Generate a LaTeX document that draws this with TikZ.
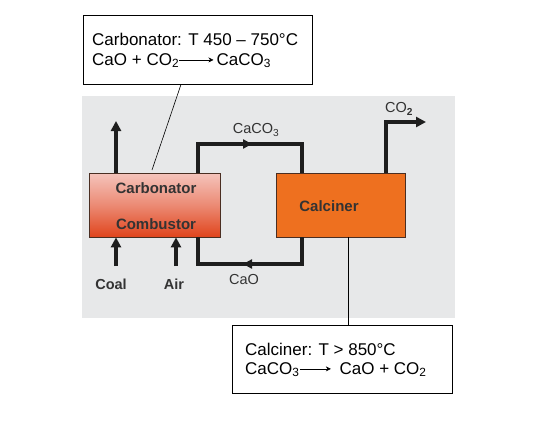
\documentclass[tikz,border=0pt]{standalone}
\usepackage{fontspec}
\setmainfont{Liberation Sans}
\usetikzlibrary{arrows.meta,calc}
\definecolor{bggray}{HTML}{E7E8E9}
\definecolor{flow}{HTML}{1E1E1E}
\definecolor{labelc}{HTML}{333333}
\definecolor{carbtop}{HTML}{F5C4BC}
\definecolor{carbbot}{HTML}{E0441C}
\definecolor{calcfill}{HTML}{EE701F}
\definecolor{boxedge}{HTML}{4A2E22}
\tikzset{
  flowline/.style={draw=flow,line width=3.6pt,line join=miter},
  flowarrow/.style={flowline,-{Triangle[length=10pt,width=10pt]}},
  midtip/.style={flowline,-{Triangle[length=9pt,width=9pt]}},
  reactor/.style={draw=boxedge,line width=0.8pt,minimum width=131pt,minimum height=64pt,inner sep=0pt},
  notebox/.style={draw=black,line width=0.9pt,fill=white,inner sep=0pt},
  leader/.style={draw=black,line width=0.6pt},
  blabel/.style={font=\fontsize{15}{17}\selectfont\bfseries,text=labelc},
  slabel/.style={font=\fontsize{14.5}{17}\selectfont,text=labelc},
  notetext/.style={anchor=base west,font=\fontsize{17}{20}\selectfont,inner sep=0pt},
}
\newcommand{\rxnarrow}[1]{\tikz[baseline]\draw[line width=0.6pt,-{Stealth[length=5pt,width=5pt]}] (0pt,0.3em) -- (#1,0.3em);}
\begin{document}
\begin{tikzpicture}[x=1pt,y=-1pt]
\useasboundingbox (0,0) rectangle (551,421);
\fill[bggray] (82,96) rectangle (455,318);

% reactors
\node[reactor,top color=carbtop,bottom color=carbbot,middle color=carbtop!55!carbbot] (carb) at (154.5,205) {};
\node[reactor,fill=calcfill,minimum width=129pt] (calc) at (340.5,205) {};
\node[blabel] (carbtxt) at (156,188) {Carbonator};
\node[blabel] (combtxt) at (156,224) {Combustor};
\node[blabel] (calctxt) at (329,206) {Calciner};

% coordinates
\coordinate (exhaust) at (116,121);
\coordinate (l1) at (198,144);
\coordinate (r1) at (302,144);
\coordinate (m1) at (252,144);
\coordinate (r2) at (302,264);
\coordinate (l2) at (198,264);
\coordinate (m2) at (243,264);
\coordinate (c1) at (386,122);
\coordinate (co2end) at (426,122);
\coordinate (coalin) at (116,266);
\coordinate (airin) at (176,266);

% flows
\draw[flowarrow] (exhaust |- carb.north) -- (exhaust);
\draw[flowline] (l1 |- carb.north) -- (l1) -- (r1) -- (r1 |- calc.north);
\draw[midtip] (l1) -- (m1);
\draw[flowline] (r2 |- calc.south) -- (r2) -- (l2) -- (l2 |- carb.south);
\draw[midtip] (r2) -- (m2);
\draw[flowarrow] (c1 |- calc.north) -- (c1) -- (co2end);
\draw[flowarrow] (coalin) -- (coalin |- carb.south);
\draw[flowarrow] (airin) -- (airin |- carb.south);

% labels
\node[slabel] (caco3lbl) at (256,130) {CaCO\textsubscript{3}};
\node[slabel] (caolbl) at (244,280) {CaO};
\node[slabel] (co2lbl) at (399,109) {CO\textsubscript{\textbf{2}}};
\node[blabel,font=\fontsize{14.5}{17}\selectfont\bfseries] (coal) at (111,284) {Coal};
\node[blabel,font=\fontsize{14.5}{17}\selectfont\bfseries] (air) at (174,284) {Air};

% note boxes
\node[notebox,minimum width=229pt,minimum height=69pt] (tbox) at (197.5,49.5) {};
\node[notetext] (t1) at (92,45) {Carbonator: T 450 – 750°C};
\node[notetext] (t2) at (92,65) {CaO + CO\textsubscript{2}\rxnarrow{34pt}\,CaCO\textsubscript{3}};
\node[notebox,minimum width=220pt,minimum height=68pt] (bbox) at (342,359) {};
\node[notetext] (b1) at (245,355) {Calciner: T > 850°C};
\node[notetext] (b2) at (245,374) {CaCO\textsubscript{3}\rxnarrow{31pt}\enspace CaO + CO\textsubscript{2}};

% leaders
\coordinate (lead1) at (152,170);
\coordinate (lead2) at (348,0);
\draw[leader] (tbox.south -| 181,0) -- (lead1);
\draw[leader] (lead2 |- calc.south) -- (lead2 |- bbox.north);
\end{tikzpicture}
\end{document}
